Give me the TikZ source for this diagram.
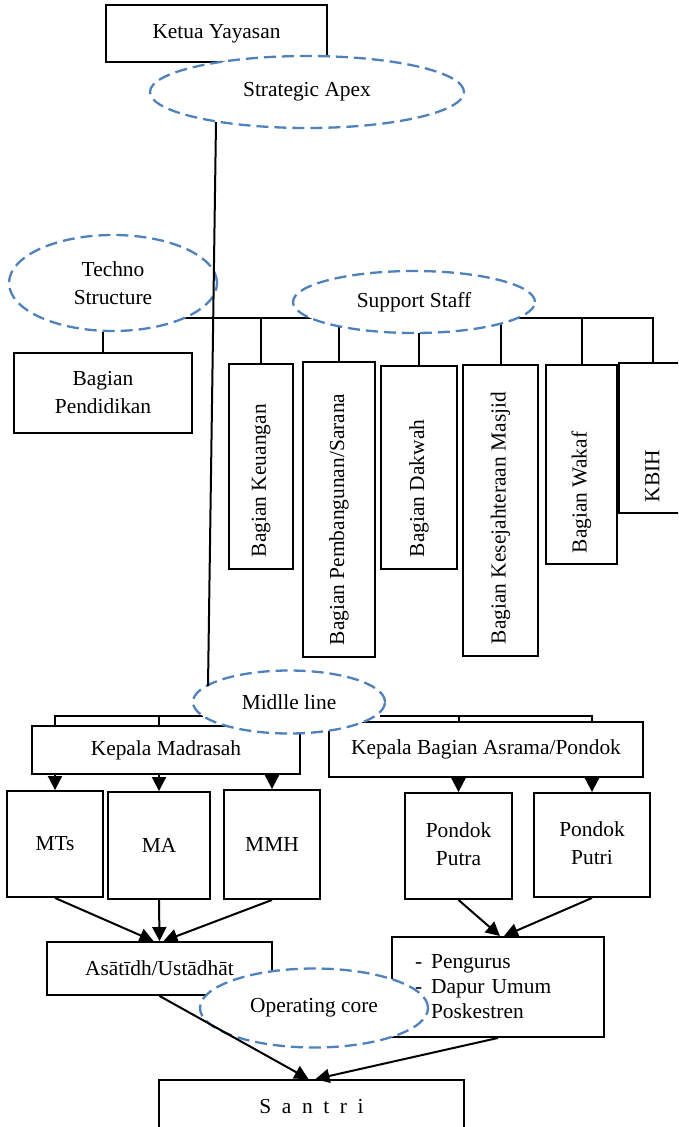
\documentclass[tikz,border=0pt]{standalone}
\usepackage{fontspec}
\setmainfont{Liberation Serif}
\usetikzlibrary{arrows.meta,shapes.geometric,backgrounds}
\definecolor{dashblue}{RGB}{79,129,189}
\newcommand\rottxt[2]{\rotatebox{90}{\makebox[#1][l]{#2}}}
\begin{document}
\begin{tikzpicture}[x=1pt,y=-1pt,
  every node/.style={font=\fontsize{21.4}{28}\selectfont},
  box/.style={draw, line width=1.9pt, inner sep=0pt, align=center},
  oval/.style={ellipse, draw=dashblue, line width=2.3pt, dash pattern=on 12pt off 6pt, fill=white, inner sep=0pt, align=center},
  conn/.style={line width=2pt},
  arr/.style={line width=2pt, -{Triangle[width=14pt,length=14pt]}}
]
\useasboundingbox (0,0) rectangle (678,1127);
\clip (0,0) rectangle (678,1127);

% boxes
\node[box, minimum width=221pt, minimum height=57pt] (ketua) at (216.5,33.5) {Ketua Yayasan};
\node[box, minimum width=178pt, minimum height=80pt] (pend) at (103,393) {Bagian\\Pendidikan};
\node[box, minimum width=64pt, minimum height=205pt] (keu) at (261,466.5) {\rottxt{181pt}{Bagian Keuangan}};
\node[box, minimum width=72pt, minimum height=295pt] (pemb) at (339,509.5) {\rottxt{271pt}{Bagian Pembangunan/Sarana}};
\node[box, minimum width=76pt, minimum height=203pt] (dakwah) at (419,467.5) {\rottxt{179pt}{Bagian Dakwah}};
\node[box, minimum width=75pt, minimum height=291pt] (kesej) at (500.5,510.5) {\rottxt{267pt}{Bagian Kesejahteraan Masjid}};
\node[box, minimum width=71pt, minimum height=199pt] (wakaf) at (581.5,464.5) {\rottxt{177pt}{Bagian Wakaf}};
\node[box, minimum width=67pt, minimum height=150pt] (kbih) at (652.5,438) {\rottxt{128pt}{KBIH}};
\node[box, minimum width=268pt, minimum height=48pt] (kmad) at (166,750) {Kepala Madrasah};
\node[box, minimum width=314pt, minimum height=55pt] (kasr) at (486,749.5) {Kepala Bagian Asrama/Pondok};
\node[box, minimum width=96pt, minimum height=106pt] (mts) at (55,844) {MTs};
\node[box, minimum width=102pt, minimum height=107pt] (ma) at (159,845.5) {MA};
\node[box, minimum width=96pt, minimum height=109pt] (mmh) at (272,844.5) {MMH};
\node[box, minimum width=107pt, minimum height=106pt] (putra) at (458.5,846) {\raisebox{-13pt}{\begin{tabular}{@{}c@{}}Pondok\\Putra\end{tabular}}};
\node[box, minimum width=116pt, minimum height=104pt] (putri) at (592,845) {\raisebox{-13pt}{\begin{tabular}{@{}c@{}}Pondok\\Putri\end{tabular}}};
\node[box, minimum width=225pt, minimum height=53pt] (asat) at (159.5,968.5) {Asātīdh/Ustādhāt};
\node[box, align=left, text width=166pt, inner xsep=23pt, minimum height=100pt, font=\fontsize{21.4}{25}\selectfont] (peng) at (498,987) {-\hspace{9pt}Pengurus\\-\hspace{9pt}Dapur Umum\\\hspace*{16pt}Poskestren};
\node[box, minimum width=305pt, minimum height=60pt] (santri) at (311.5,1110) {\raisebox{7pt}{\spaceskip=10.6pt\relax S a n t r i}};

% buses behind the dashed ovals
\coordinate (busL) at (185,318);
\coordinate (busR) at (kbih.north |- busL);
\coordinate (mbL) at (203,715.5);
\coordinate (mbR) at (380,716);
\begin{scope}[on background layer]
\draw[conn] (busL) -- (busR) -- (kbih.north);
\draw[conn] (keu.north |- busL) -- (keu.north);
\draw[conn] (pemb.north |- busL) -- (pemb.north);
\draw[conn] (dakwah.north |- busL) -- (dakwah.north);
\draw[conn] (kesej.north |- busL) -- (kesej.north);
\draw[conn] (wakaf.north |- busL) -- (wakaf.north);
\draw[conn] (mbL) -- (mbL -| mts.north) -- (kmad.north -| mts.north);
\draw[conn] (mbL -| ma.north) -- (kmad.north -| ma.north);
\draw[conn] (mbR) -- (mbR -| putri.north) -- (kasr.north -| putri.north);
\draw[conn] (mbR -| putra.north) -- (kasr.north -| putra.north);
\end{scope}

% dashed ovals
\node[oval, minimum width=314pt, minimum height=72pt] (apex) at (307,92) {Strategic Apex};
\node[oval, minimum width=208pt, minimum height=96pt] (techno) at (113,283) {Techno\\Structure};
\node[oval, minimum width=242pt, minimum height=62pt] (support) at (414,302) {Support Staff};
\node[oval, minimum width=192pt, minimum height=63pt] (midlle) at (289,702) {Midlle line};
\node[oval, minimum width=228pt, minimum height=79pt] (opcore) at (314,1008) {Operating core};

% main line and connectors
\coordinate (mtop) at (216,122);
\coordinate (mbot) at (208,686);
\draw[conn] (mtop) -- (mbot);
\draw[conn] (techno.south -| pend.north) -- (pend.north);

\draw[arr] (kmad.south -| mts.north) -- (mts.north);
\draw[arr] (kmad.south -| ma.north) -- (ma.north);
\draw[arr] (kmad.south -| mmh.north) -- (mmh.north);
\draw[arr] (kasr.south -| putra.north) -- (putra.north);
\draw[arr] (kasr.south -| putri.north) -- (putri.north);
\draw[arr] (mts.south) -- ([xshift=-6pt]asat.north);
\draw[arr] (ma.south) -- (asat.north);
\draw[arr] (mmh.south) -- ([xshift=4pt]asat.north);
\draw[arr] (putra.south) -- ([xshift=2pt]peng.north);
\draw[arr] (putri.south) -- ([xshift=6pt]peng.north);
\draw[arr] (asat.south) -- ([xshift=-3pt]santri.north);
\draw[arr] (peng.south) -- ([xshift=4pt]santri.north);
\end{tikzpicture}
\end{document}
